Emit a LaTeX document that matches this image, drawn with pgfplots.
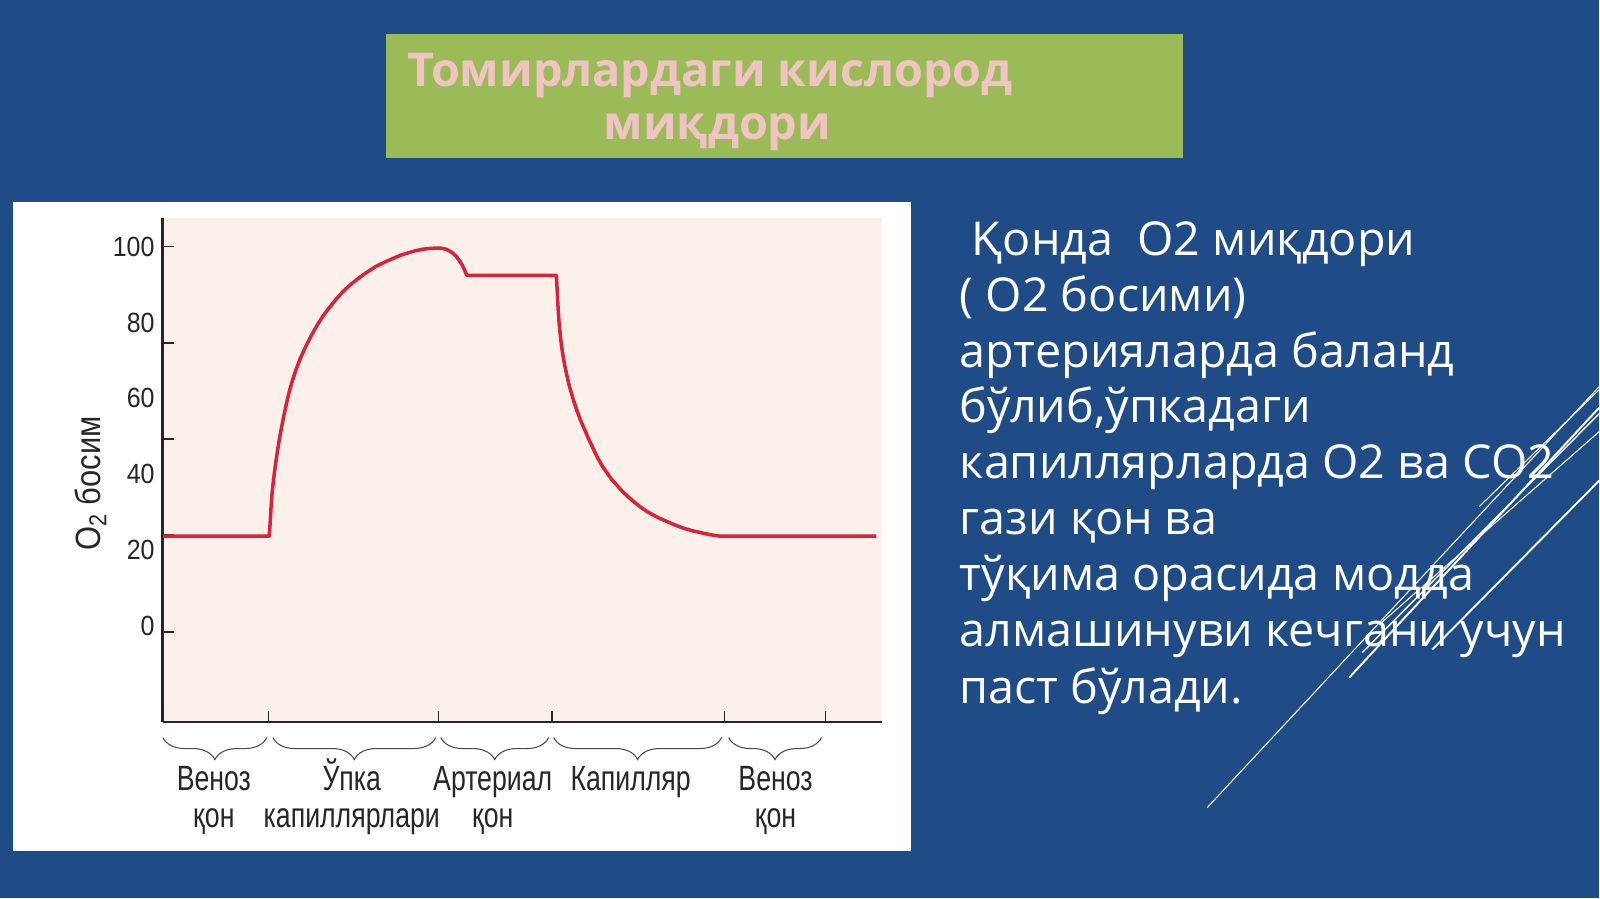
\documentclass[border=0pt]{standalone}
\usepackage{fontspec}
\usepackage{pgfplots}
\usepackage{pgfplotstable}
\pgfplotsset{compat=1.18}
\usetikzlibrary{decorations.pathreplacing}
\setmainfont{Open Sans}
\newfontfamily\osans{Open Sans}
\newfontfamily\narrow[FakeStretch=0.76]{Liberation Sans}
\newfontfamily\narrowy[FakeStretch=0.88]{Liberation Sans}
\newfontfamily\narrowt[FakeStretch=0.9]{Liberation Sans}
\definecolor{slidebg}{HTML}{1F4B86}
\definecolor{titlegreen}{HTML}{9BBB59}
\definecolor{titletext}{HTML}{F0C4C2}
\definecolor{plotbg}{HTML}{FCF1EA}
\definecolor{curve}{HTML}{D9233A}
\definecolor{axisgray}{HTML}{262626}

\pgfplotstableread{
x y
163 23.7
269.4 23.7
270.3 27
271.2 31
272.3 35
273.6 38.3
275.5 42.2
277.4 45.7
279.6 49.3
282.1 52.8
284.5 56
286.9 58.9
290 62.3
293 65
296.3 67.6
300.5 70.5
305.7 73.5
311 76.3
317.5 79.3
323 81.6
329.3 83.8
336 86
343.5 88.2
350 89.8
357.6 91.4
366 93
376.5 94.8
386 96
395.4 97.1
402 97.8
409.6 98.4
416 98.9
423.7 99.3
431 99.5
437.9 99.6
443 99.5
447.3 99.2
452 98.5
456.7 97.4
460 96.2
462.4 95.2
465 93.8
467.1 92.4
556.8 92.4
557.3 90
557.9 87
558.6 83.5
559.5 80
560.6 77
562 73.8
563.6 71
565.3 68.6
567.5 65.8
570 63.1
573.5 59.9
577.1 57
580.5 54.6
584.2 52.3
589 49.4
593.6 46.8
598 44.4
603 42.1
612 38.7
621.9 35.8
629 34
636.1 32.4
643 31
650.2 29.8
659.5 28.5
669.1 27.4
676 26.6
683.3 25.9
692 25.2
702.1 24.6
711 24.1
721 23.7
877 23.7
}\otwo

\begin{document}
\begin{tikzpicture}[x=0.02cm,y=-0.02cm]
% slide background
\fill[slidebg] (0,0) rectangle (1600,899);
% title box
\fill[titlegreen] (386,34) rectangle (1184,158);
\node[anchor=base, inner sep=0pt, text=titletext,
      font=\osans\bfseries\fontsize{26.6}{32}\selectfont] at (710.5,86.7) {Томирлардаги кислород};
\node[anchor=base, inner sep=0pt, text=titletext,
      font=\osans\bfseries\fontsize{26.6}{32}\selectfont] at (718,140) {миқдори};
% white panel for the chart
\fill[white] (13.3,202) rectangle (911.7,851.7);

\begin{axis}[
  at={(3.26cm,-14.45cm)}, anchor=south west,
  scale only axis, width=14.4cm, height=10.09cm,
  xmin=163, xmax=883, ymin=-25.2, ymax=107.55,
  axis background/.style={fill=plotbg},
  axis x line*=bottom, axis y line*=left,
  axis line style={-, line width=1.6pt, draw=axisgray},
  tick align=inside,
  major tick length=0.22cm,
  tick style={line width=0.8pt, draw=axisgray},
  xtick={269,439,552.5,725,826}, xticklabels={,,,,},
  ytick={-1.5,24,49.3,74.6,100}, yticklabels={,,,,},
  extra y ticks={0,20,40,60,80,100},
  extra y tick style={major tick length=0pt, grid=none},
  /pgf/number format/assume math mode=true,
  yticklabel style={font=\narrowt\fontsize{15.8}{18}\selectfont, inner sep=0pt, xshift=-0.16cm, text=black!85},
]
\addplot[curve, line width=2pt, line join=round, no markers] table {\otwo};
\end{axis}

% y axis label
\node[rotate=90, inner sep=0pt, text=black!85, font=\narrowy\fontsize{20}{24}\selectfont] at (90.8,483.7) {O\textsubscript{2} босим};

% braces below the axis
\begin{scope}[draw=black!70, line width=0.6pt, decoration={brace, mirror, amplitude=0.44cm}]
\draw[decorate] (163,738) -- (267,738);
\draw[decorate] (273,738) -- (436,738);
\draw[decorate] (441,738) -- (549,738);
\draw[decorate] (554,738) -- (722,738);
\draw[decorate] (729,738) -- (822,738);
\end{scope}

% category labels
\begin{scope}[every node/.style={anchor=base, inner sep=0pt, text=black!85, font=\narrow\fontsize{20}{24}\selectfont}]
\node at (214,791) {Веноз};
\node at (214,828) {қон};
\node at (352,791) {Ўпка};
\node at (352,828) {капиллярлари};
\node at (493,791) {Артериал};
\node at (493,828) {қон};
\node at (631,791) {Капилляр};
\node at (776,791) {Веноз};
\node at (776,828) {қон};
\end{scope}

% right text
\begin{scope}[every node/.style={anchor=base west, inner sep=0pt, text=white, font=\osans\fontsize{26.6}{32}\selectfont}]
\node at (960,256) {\ Қонда\ \ О2 миқдори};
\node at (960,312) {( О2 босими)};
\node at (960,368) {артерияларда баланд};
\node at (960,423) {бўлиб,ўпкадаги};
\node at (960,479) {капиллярларда О2 ва СО2};
\node at (960,535) {гази қон ва};
\node at (960,591) {тўқима орасида модда};
\node at (960,647) {алмашинуви кечгани учун};
\node at (960,704) {паст бўлади.};
\end{scope}

% decorative diagonal lines
\draw[white, line width=0.6pt] (1208,808) -- (1600,387);
\draw[white, line width=0.6pt] (1480,507) -- (1600,390);
\draw[white, line width=1.1pt] (1350,678) -- (1600,408);
\draw[white, line width=0.8pt] (1363,653) -- (1600,414);
\draw[white, line width=0.6pt] (1380,625) -- (1600,432);
\draw[white, line width=1.1pt] (1433,650) -- (1600,481);
\end{tikzpicture}
\end{document}
